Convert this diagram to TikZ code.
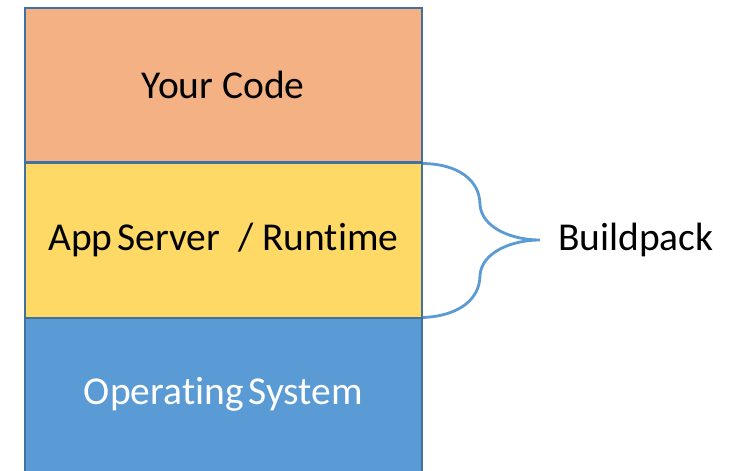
\documentclass[tikz,border=0pt]{standalone}
\usepackage{fontspec}
\setmainfont{Carlito}[Ligatures={NoCommon}]
\definecolor{codefill}{HTML}{F4B183}
\definecolor{runfill}{HTML}{FFD966}
\definecolor{osfill}{HTML}{5B9BD5}
\definecolor{layerline}{HTML}{41719C}
\definecolor{bracecol}{HTML}{5B9BD5}
\begin{document}
\begin{tikzpicture}[x=1pt,y=-1pt,
  layer/.style={draw=layerline, line width=2pt, minimum width=397.5pt, minimum height=154.5pt,
    inner sep=0pt, font=\fontsize{39.5}{44}\selectfont, anchor=north west},
  bracestroke/.style={draw=bracecol, line width=2.8pt}]
\useasboundingbox (0,0) rectangle (731,471);
\node[layer, fill=codefill] (code) at (23.5,6.5) {Your Code};
\node[layer, fill=runfill] (run) at (23.5,162) {App\hspace{0.12em}Server~~/ Runtime};
\node[layer, fill=osfill, text=white] (os) at (23.5,316.5) {Operating\hspace{0.12em}System};
% brace spanning the runtime layer
\coordinate (tip) at (540,240);
\path[bracestroke] ([yshift=-1.5pt]run.north east) .. controls (458,164) and (480,180) .. (480,205)
  .. controls (482,228) and (512,240) .. (tip)
  .. controls (512,240) and (482,252) .. (480,275)
  .. controls (480,300) and (458,316) .. ([yshift=1pt]run.south east);
\node[font=\fontsize{39.5}{44}\selectfont, anchor=west, inner sep=0pt] (bp) at (558,240) {Buildpack};
\end{tikzpicture}
\end{document}
